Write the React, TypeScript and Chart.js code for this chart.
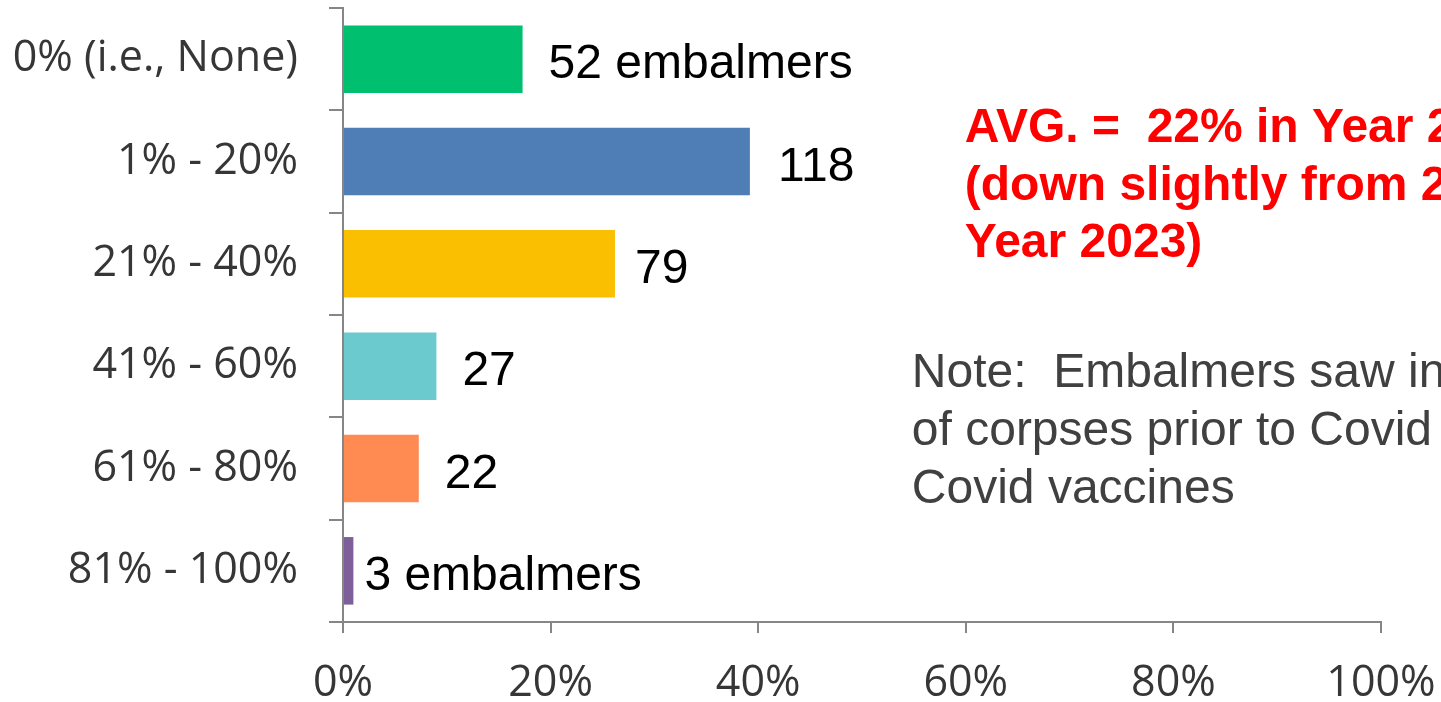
import React, { useEffect, useRef } from "react";
import { Chart, registerables } from "chart.js";

Chart.register(...registerables);

// ---- data ----
const categories = ["0% (i.e., None)", "1% - 20%", "21% - 40%", "41% - 60%", "61% - 80%", "81% - 100%"];
const embalmerCounts = [52, 118, 79, 27, 22, 3];
const shareOfEmbalmers = [17.3, 39.2, 26.2, 9.0, 7.3, 1.0];
const valueLabels = ["52 embalmers", "118", "79", "27", "22", "3 embalmers"];
const xTickValues = [0, 20, 40, 60, 80, 100];
const avgLines = ["AVG. =  22% in Year 2024", "(down slightly from 23% in", "Year 2023)"];
const noteLines = ["Note:  Embalmers saw in", "of corpses prior to Covid", "Covid vaccines"];

// ---- styles ----
const barColors = ["#00C06F", "#4F7EB7", "#F9BF00", "#6BCACE", "#FF8B52", "#7E5F9A"];
const labelGaps = [26, 28, 20, 26, 26, 11];
const axisColor = "#868686";
const tickTextColor = "#363636";

const overlayPlugin = {
  id: "overlayText",
  afterDatasetsDraw(chart: any) {
    const ctx = chart.ctx;
    const meta = chart.getDatasetMeta(0);
    ctx.save();
    ctx.font = '48px "Liberation Sans", Arial, sans-serif';
    ctx.fillStyle = "#000000";
    ctx.textAlign = "left";
    ctx.textBaseline = "alphabetic";
    meta.data.forEach((bar: any, i: number) => {
      ctx.fillText(valueLabels[i], bar.x + labelGaps[i], bar.y + 19);
    });

    const xs = chart.scales.x;
    const top = chart.chartArea.top;
    // red average annotation
    ctx.font = 'bold 48px "Liberation Sans", Arial, sans-serif';
    ctx.fillStyle = "#FF0000";
    const avgX = xs.getPixelForValue(60) - 1;
    avgLines.forEach((line, i) => {
      ctx.fillText(line, avgX, top + 134 + i * 57.5);
    });
    // note annotation
    ctx.font = '48px "Liberation Sans", Arial, sans-serif';
    ctx.fillStyle = "#404040";
    const noteX = xs.getPixelForValue(54.8);
    noteLines.forEach((line, i) => {
      ctx.fillText(line, noteX, top + 379 + i * 58);
    });
    ctx.restore();
  },
};

export default function App() {
  const canvasRef = useRef<HTMLCanvasElement | null>(null);

  useEffect(() => {
    if (!canvasRef.current) return;
    const chart = new Chart(canvasRef.current, {
      type: "bar",
      data: {
        labels: categories,
        datasets: [
          {
            label: "Share of embalmers",
            data: shareOfEmbalmers,
            backgroundColor: barColors,
            borderWidth: 0,
            barPercentage: 0.66,
            categoryPercentage: 1.0,
          },
        ],
      },
      options: {
        indexAxis: "y",
        animation: false,
        responsive: true,
        maintainAspectRatio: false,
        layout: { padding: { top: 8, right: 60, left: 0, bottom: 0 } },
        plugins: {
          legend: { display: false },
          tooltip: { enabled: false },
        },
        scales: {
          y: {
            type: "category",
            grid: {
              offset: true,
              drawOnChartArea: false,
              tickLength: 14,
              color: axisColor,
              lineWidth: 2,
            },
            border: { color: axisColor, width: 2 },
            ticks: {
              padding: 31,
              color: tickTextColor,
              font: { family: "'Open Sans', Lato, sans-serif", size: 43 },
            },
            afterFit(scale: any) {
              scale.width = 343;
              scale.paddingTop = 0;
              scale.paddingBottom = 0;
            },
          },
          x: {
            type: "linear",
            min: 0,
            max: 100,
            afterBuildTicks(scale: any) {
              scale.ticks = xTickValues.map((v) => ({ value: v }));
            },
            ticks: {
              padding: 25,
              color: tickTextColor,
              font: { family: "'Open Sans', Lato, sans-serif", size: 43 },
              callback: (v: any) => v + "%",
            },
            grid: {
              drawOnChartArea: false,
              tickLength: 11,
              color: axisColor,
              lineWidth: 2,
            },
            border: { color: axisColor, width: 2 },
            afterFit(scale: any) {
              scale.height = 80;
              scale.paddingLeft = 0;
              scale.paddingRight = 0;
            },
          },
        },
      },
      plugins: [overlayPlugin],
    });
    return () => chart.destroy();
  }, []);

  return (
    <div style={{ position: "fixed", left: 0, top: 0, width: 1441, height: 702, background: "#ffffff" }}>
      <canvas ref={canvasRef} />
    </div>
  );
}
